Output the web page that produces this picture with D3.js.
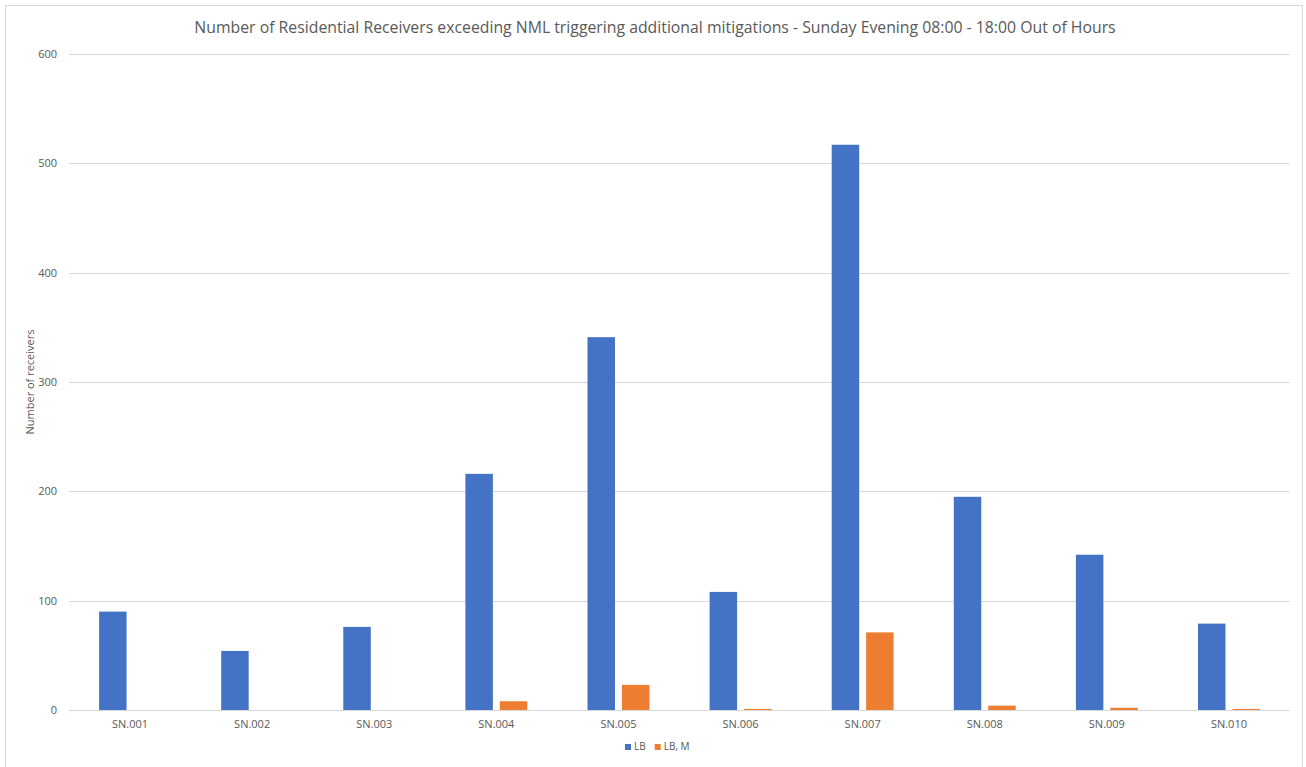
<!DOCTYPE html>
<html>
<head>
<meta charset="utf-8">
<script src="https://cdn.jsdelivr.net/npm/d3@7"></script>
<style>
  html, body { margin: 0; padding: 0; background: #fff; }
  svg { display: block; }
  text { font-family: "Open Sans", "Noto Sans", sans-serif; fill: #595959; }
</style>
</head>
<body>
<svg id="chart" width="1306" height="767"></svg>
<script>
// Sites and receiver counts per mitigation class
const categories = ["SN.001", "SN.002", "SN.003", "SN.004", "SN.005", "SN.006", "SN.007", "SN.008", "SN.009", "SN.010"];
const seriesNames = ["LB", "LB, M"];
const lbValues = [90, 54, 76, 216, 341, 108, 517, 195, 142, 79];
const lbmValues = [0, 0, 0, 8, 23, 1, 71, 4, 2, 1];
const yTicks = [0, 100, 200, 300, 400, 500, 600];
const colors = ["#4472C4", "#ED7D31"];

const title = "Number of Residential Receivers exceeding NML triggering additional mitigations - Sunday Evening 08:00 - 18:00 Out of Hours";
const yTitle = "Number of receivers";

const svg = d3.select("#chart");
const plot = { left: 69, right: 1290, top: 54, bottom: 710 };

// chart frame
svg.append("rect")
  .attr("x", 5.5).attr("y", 5.5)
  .attr("width", 1297).attr("height", 780)
  .attr("fill", "#fff").attr("stroke", "#d9d9d9").attr("stroke-width", 1);

const x = d3.scaleBand().domain(categories).range([plot.left, plot.right]).padding(0);
const y = d3.scaleLinear().domain([0, 600]).range([plot.bottom, plot.top]);

// grid lines
svg.append("g")
  .selectAll("line")
  .data(yTicks.filter(t => t > 0))
  .join("line")
  .attr("x1", plot.left).attr("x2", plot.right)
  .attr("y1", d => Math.round(y(d)) + 0.5).attr("y2", d => Math.round(y(d)) + 0.5)
  .attr("stroke", "#d9d9d9").attr("stroke-width", 1);

// y axis labels
const yAxis = d3.axisLeft(y).tickValues(yTicks).tickSize(0).tickPadding(12).tickFormat(d3.format("d"));
const gy = svg.append("g").attr("transform", `translate(${plot.left},0)`).call(yAxis);
gy.select(".domain").remove();
gy.selectAll("text").style("font-size", "11px").attr("fill", "#595959")
  .style("font-family", '"Open Sans", "Noto Sans", sans-serif');

// bars: two clustered series per site
const bw = x.bandwidth();
const barW = bw * 0.225;
const innerGap = bw * 0.057;
const seriesData = [lbValues, lbmValues];

seriesData.forEach((vals, si) => {
  svg.append("g")
    .selectAll("rect")
    .data(vals.map((v, i) => ({ cat: categories[i], v })))
    .join("rect")
    .attr("x", d => {
      const c = x(d.cat) + bw / 2;
      return si === 0 ? c - innerGap / 2 - barW : c + innerGap / 2;
    })
    .attr("y", d => y(d.v))
    .attr("width", barW)
    .attr("height", d => Math.max(0, y(0) - y(d.v)))
    .attr("fill", colors[si]);
});

// x axis baseline and labels
svg.append("line")
  .attr("x1", plot.left).attr("x2", plot.right)
  .attr("y1", y(0) + 0.5).attr("y2", y(0) + 0.5)
  .attr("stroke", "#d9d9d9").attr("stroke-width", 1);

const xAxis = d3.axisBottom(x).tickSize(0).tickPadding(10);
const gx = svg.append("g").attr("transform", `translate(0,${plot.bottom})`).call(xAxis);
gx.select(".domain").remove();
gx.selectAll("text").style("font-size", "11px").attr("fill", "#595959")
  .style("font-family", '"Open Sans", "Noto Sans", sans-serif');

// title
svg.append("text")
  .attr("x", 655)
  .attr("y", 33)
  .attr("text-anchor", "middle")
  .style("font-size", "15.8px")
  .text(title);

// y axis title
svg.append("text")
  .attr("transform", `translate(34,${(plot.top + plot.bottom) / 2}) rotate(-90)`)
  .attr("text-anchor", "middle")
  .style("font-size", "11px")
  .text(yTitle);

// legend
const legend = svg.append("g").attr("transform", "translate(625,750)");
let lx = 0;
seriesNames.forEach((name, i) => {
  const g = legend.append("g").attr("transform", `translate(${lx},0)`);
  g.append("rect").attr("x", 0).attr("y", -6).attr("width", 6).attr("height", 6).attr("fill", colors[i]);
  const t = g.append("text").attr("x", 9).attr("y", 0).style("font-size", "10px").text(name);
  lx += 9 + t.node().getComputedTextLength() + 9;
});
</script>
</body>
</html>
